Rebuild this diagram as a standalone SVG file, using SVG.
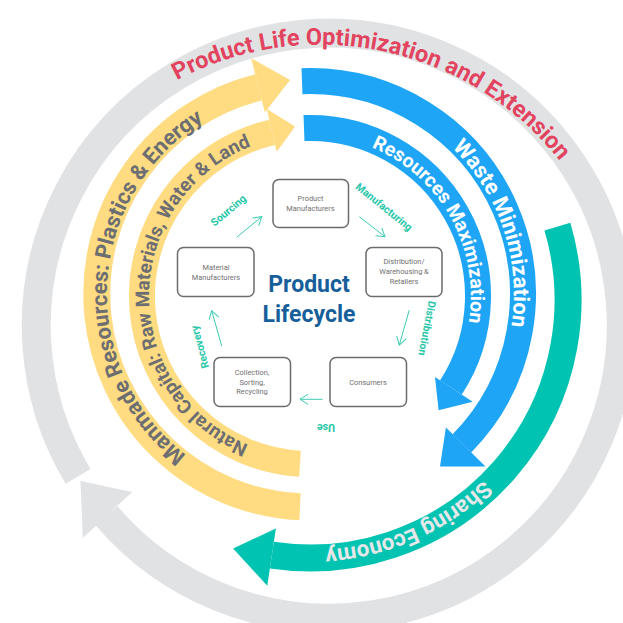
<svg xmlns="http://www.w3.org/2000/svg" width="623" height="623" viewBox="0 0 623 623">
<defs>
<style>
.band{fill:none;stroke-linecap:butt}
.grey{stroke:#e1e2e4;stroke-width:29}
.greyf{fill:#e1e2e4}
.yel{stroke:#ffdc82;stroke-width:27}
.yelf{fill:#ffdc82}
.blue{stroke:#1ea5f6;stroke-width:26}
.bluef{fill:#1ea5f6}
.teal{stroke:#00c3b1;stroke-width:27}
.tealf{fill:#00c3b1}
.arc-t{font-family:Roboto,"Liberation Sans",sans-serif;font-weight:700}
.box{fill:#fff;stroke:#6b6b6b;stroke-width:1.5}
.bt{font-family:Roboto,"Liberation Sans",sans-serif;font-size:7.4px;fill:#707070;text-anchor:middle}
.lbl{font-family:Roboto,"Liberation Sans",sans-serif;font-size:10.5px;font-weight:700;fill:#25c6a8;text-anchor:middle;dominant-baseline:central}
.conn{fill:none;stroke:#3ccbb2;stroke-width:1;marker-end:url(#ah)}
</style>
<marker id="ah" markerWidth="12" markerHeight="12" refX="9" refY="6" orient="auto" markerUnits="userSpaceOnUse">
<path d="M1,1 L9,6 L1,11" fill="none" stroke="#3ccbb2" stroke-width="1"/>
</marker>
<path id="tpRed" d="M36.6,236 A305.5,305.5 0 0 1 625.3,360.1"/>
<path id="tpManmade" d="M264.3,491.8 A203,203 0 0 1 285.3,92.5"/>
<path id="tpNatural" d="M280.7,454.3 A161,161 0 0 1 283.4,137.2"/>
<path id="tpWaste" d="M280.4,92.2 A204,204 0 0 1 406.9,473.5"/>
<path id="tpRes" d="M257.6,143.8 A161,161 0 0 1 411.3,421.1"/>
<path id="tpShare" d="M552.9,240.8 A250,250 0 0 1 102,438.7"/>
</defs>

<g id="ring-product-life">
<path class="band grey" d="M78.1,476.4 A292.5,292.5 0 1 1 106.5,515.8"/>
<polygon class="greyf" points="132.2,492 80.5,481 82.8,538"/>
<text class="arc-t" font-size="23.5" font-weight="500" fill="#e2435e"><textPath href="#tpRed" startOffset="50%" text-anchor="middle">Product Life Optimization and Extension</textPath></text>
</g>

<g id="arrow-manmade">
<path class="band yel" d="M300,506.8 A213,213 0 0 1 258.5,87.3"/>
<polygon class="yelf" points="264.8,112.6 290.1,79.9 251.2,58.2"/>
<text class="arc-t" font-size="22" fill="#6d6e71"><textPath href="#tpManmade" startOffset="50%" text-anchor="middle">Manmade Resources: Plastics &amp; Energy</textPath></text>
</g>

<g id="arrow-natural">
<path class="band yel" d="M300,463.7 A168,168 0 0 1 272.2,132.3" style="stroke-width:26"/>
<polygon class="yelf" points="276.7,151.8 295.2,126.6 266.8,108.9"/>
<text class="arc-t" font-size="19" fill="#6d6e71"><textPath href="#tpNatural" startOffset="50%" text-anchor="middle">Natural Capital: Raw Materials, Water &amp; Land</textPath></text>
</g>

<g id="arrow-waste">
<path class="band blue" d="M302,81.2 A213,213 0 0 1 461.9,443.3"/>
<polygon class="bluef" points="445.9,427.5 440,466.5 485.5,466.4"/>
<text class="arc-t" font-size="22" fill="#ffffff"><textPath href="#tpWaste" startOffset="50%" text-anchor="middle">Waste Minimization</textPath></text>
</g>

<g id="arrow-resources">
<path class="band blue" d="M304,128.1 A168,168 0 0 1 450.9,387.5"/>
<polygon class="bluef" points="435,377.1 438.6,410.2 472.7,401.7"/>
<text class="arc-t" font-size="19.5" fill="#ffffff"><textPath href="#tpRes" startOffset="50%" text-anchor="middle">Resources Maximization</textPath></text>
</g>

<g id="arrow-sharing">
<path class="band teal" d="M557.4,226.7 A258,258 0 0 1 271.9,555.2"/>
<polygon class="tealf" points="275.9,528.5 233.1,548.4 267.3,585.8"/>
<text class="arc-t" font-size="22.5" fill="#e6e7e8"><textPath href="#tpShare" startOffset="50%" text-anchor="middle">Sharing Economy</textPath></text>
</g>

<g id="title">
<text x="309" y="291.7" font-family="Roboto,'Liberation Sans',sans-serif" font-size="23" font-weight="700" fill="#175f9b" text-anchor="middle">Product</text>
<text x="309" y="321.7" font-family="Roboto,'Liberation Sans',sans-serif" font-size="23" font-weight="700" fill="#175f9b" text-anchor="middle">Lifecycle</text>
</g>

<g id="node-product-manufacturers">
<rect class="box" x="273" y="179.5" width="75.5" height="48" rx="6"/>
<text class="bt" x="310.5" y="201">Product</text>
<text class="bt" x="310.5" y="211">Manufacturers</text>
</g>
<g id="node-distribution">
<rect class="box" x="366" y="247.5" width="76" height="49" rx="6"/>
<text class="bt" x="404" y="264">Distribution/</text>
<text class="bt" x="404" y="273.8">Warehousing &amp;</text>
<text class="bt" x="404" y="283.6">Retailers</text>
</g>
<g id="node-consumers">
<rect class="box" x="330" y="357.5" width="76.5" height="49" rx="6"/>
<text class="bt" x="368" y="384.5">Consumers</text>
</g>
<g id="node-collection">
<rect class="box" x="214" y="357.5" width="76.5" height="49" rx="6"/>
<text class="bt" x="252" y="375">Collection,</text>
<text class="bt" x="252" y="384.6">Sorting,</text>
<text class="bt" x="252" y="394.2">Recycling</text>
</g>
<g id="node-material">
<rect class="box" x="177.5" y="247.5" width="76.5" height="49" rx="6"/>
<text class="bt" x="216" y="270">Material</text>
<text class="bt" x="216" y="279.7">Manufacturers</text>
</g>

<g id="connectors">
<path class="conn" d="M236.7,237.3 L261.7,216.7"/>
<path class="conn" d="M359.3,216.7 L385,236.7"/>
<path class="conn" d="M409.3,310 L399.3,345"/>
<path class="conn" d="M322.7,399.3 L300,399.3"/>
<path class="conn" d="M221.7,346 L211.7,310.7"/>
<text class="lbl" transform="translate(228.5,210.5) rotate(-40)">Sourcing</text>
<text class="lbl" transform="translate(384,207) rotate(39)">Manufacturing</text>
<text class="lbl" transform="translate(427,328.3) rotate(101)">Distribution</text>
<text class="lbl" transform="translate(326,427.5) rotate(180)">Use</text>
<text class="lbl" transform="translate(200,347) rotate(-105)">Recovery</text>
</g>
</svg>
